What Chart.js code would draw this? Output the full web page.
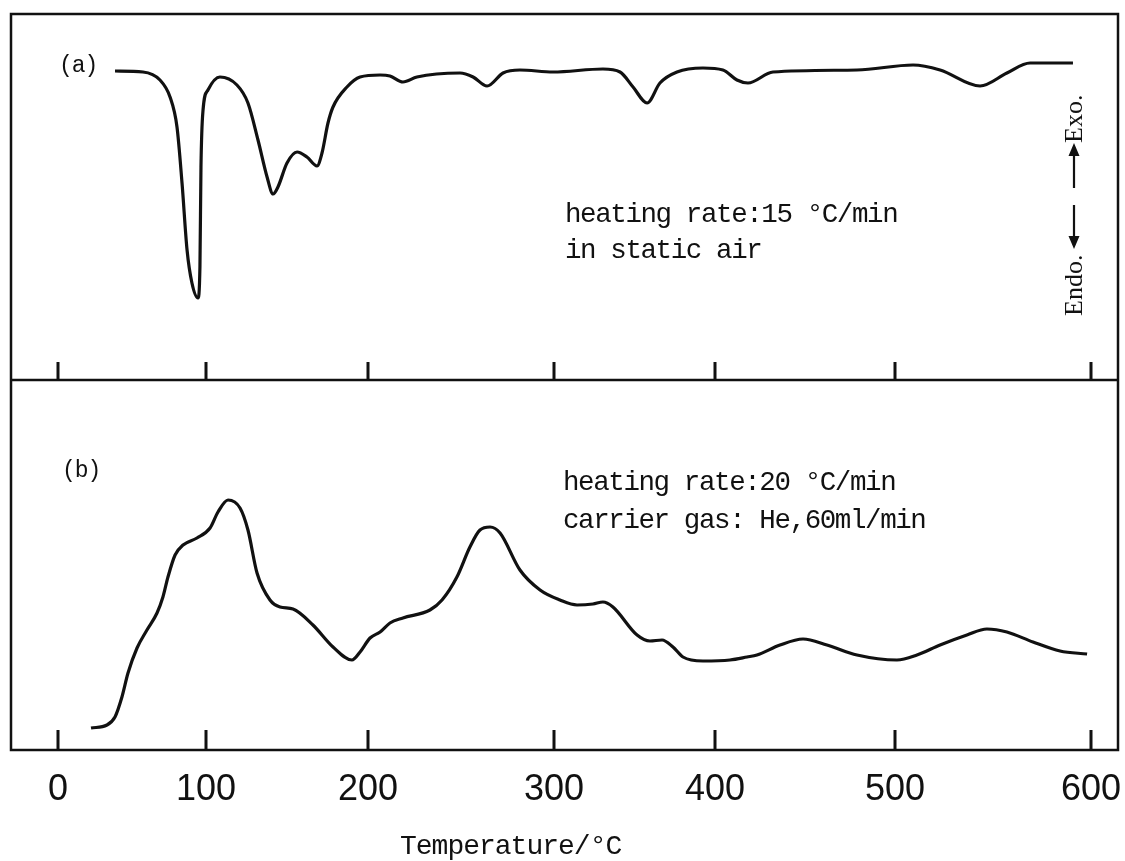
<!DOCTYPE html>
<html>
<head>
<meta charset="utf-8">
<script src="https://cdn.jsdelivr.net/npm/chart.js@4.4.1/dist/chart.umd.min.js"></script>
<style>
  body { margin: 0; background: #fff; }
  canvas { display: block; }
</style>
</head>
<body>
<canvas id="chart" width="1125" height="861"></canvas>
<script>
// (a) DTA in static air, 15 °C/min
const tempA = [38.5, 57.4, 68.9, 75.7, 80.4, 83.8, 87.2, 90.5, 94.6, 95.9, 96.6, 98.0, 101.2, 108.6, 119.1,
    125.9, 132.1, 137.7, 141.4, 144.4, 150.0, 156.2, 162.3, 168.5, 171.6, 175.3, 178.4, 187.0, 195.1,
    206.5, 211.8, 218.8, 226.3, 249.5, 256.5, 264.0, 272.6, 281.7, 299.5, 330.4, 341.0, 349.1, 357.8,
    365.8, 376.4, 392.5, 404.4, 412.2, 418.3, 432.2, 478.9, 509.2, 523.0, 543.4, 557.1, 568.9, 590.8];
const signalA = [30.9, 30.8, 30.0, 28.3, 25.3, 19.7, 13.0, 9.7, 8.2, 11.3, 21.3, 27.0, 29.0, 30.3, 29.5,
    27.7, 24.0, 20.3, 18.6, 19.3, 21.7, 22.8, 22.3, 21.4, 22.7, 25.7, 27.3, 29.3, 30.3,
    30.5, 30.4, 29.8, 30.3, 30.7, 30.3, 29.4, 30.7, 31.0, 30.8, 31.1, 30.8, 29.3, 27.7,
    29.7, 30.8, 31.2, 31.0, 30.0, 29.7, 30.8, 31.0, 31.5, 31.0, 29.4, 30.7, 31.7, 31.7];

// (b) TPD curve, 20 °C/min, He carrier
const tempB = [22.3, 33.1, 38.5, 43.2, 47.3, 53.4, 60.1, 66.9, 70.9, 74.3, 79.1, 84.5, 93.9, 102.5, 107.4,
    113.6, 121.0, 125.9, 131.5, 139.5, 145.7, 153.7, 166.0, 178.4, 190.1, 195.1, 201.1, 206.5, 211.8,
    218.8, 233.3, 239.8, 247.8, 254.8, 260.2, 265.6, 271.0, 281.7, 292.5, 303.7, 314.3, 324.2, 330.4,
    336.6, 351.6, 359.6, 367.1, 373.9, 380.1, 392.5, 408.3, 417.8, 423.3, 436.1, 448.9, 462.2, 478.9,
    501.0, 511.2, 523.0, 536.7, 546.9, 557.1, 570.4, 584.2, 598.0];
const signalB = [2.2, 2.5, 3.3, 5.3, 7.7, 10.2, 12.0, 13.7, 15.3, 17.3, 19.5, 20.5, 21.2, 22.2, 23.8,
    25.0, 24.2, 22.0, 17.7, 15.0, 14.3, 14.1, 12.5, 10.3, 9.0, 9.8, 11.2, 11.8, 12.7,
    13.2, 14.0, 15.0, 17.3, 20.3, 22.0, 22.3, 21.7, 18.0, 16.0, 15.0, 14.5, 14.6, 14.8,
    14.3, 11.5, 10.9, 11.0, 10.3, 9.3, 8.9, 9.0, 9.3, 9.5, 10.5, 11.1, 10.5, 9.5,
    9.0, 9.5, 10.5, 11.5, 12.1, 11.8, 10.8, 9.9, 9.6];

const tempTicks = [0, 100, 200, 300, 400, 500, 600];
const notesA = ['heating rate:15 °C/min', 'in static air'];
const notesB = ['heating rate:20 °C/min', 'carrier gas: He,60ml/min'];

// the printed temperature axis is hand drawn: each 100 °C step has its own length
const xStops = [[-31.8, 0], [0, 47], [100, 195], [200, 357], [300, 543], [400, 704], [500, 884], [600, 1080], [613.8, 1107]];

class StretchedScale extends Chart.LinearScale {
    static id = 'stretched';
    static defaults = Chart.LinearScale.defaults;

    getPixelForValue(value) {
        const total = xStops[xStops.length - 1][1];
        let i = 1;
        while (i < xStops.length - 1 && value > xStops[i][0]) i++;
        const [v0, p0] = xStops[i - 1], [v1, p1] = xStops[i];
        const pos = p0 + (value - v0) / (v1 - v0) * (p1 - p0);
        return this.getPixelForDecimal(pos / total);
    }

    getValueForPixel(pixel) {
        const total = xStops[xStops.length - 1][1];
        const pos = this.getDecimalForPixel(pixel) * total;
        let i = 1;
        while (i < xStops.length - 1 && pos > xStops[i][1]) i++;
        const [v0, p0] = xStops[i - 1], [v1, p1] = xStops[i];
        return v0 + (pos - p0) / (p1 - p0) * (v1 - v0);
    }
}
Chart.register(StretchedScale);

const mono = 'Liberation Mono, Courier New, monospace';

const panelDecor = {
    id: 'panelDecor',
    afterDraw(chart) {
        const {ctx, chartArea: a, scales} = chart;
        const mid = scales.ya.getPixelForValue(0);
        ctx.save();
        ctx.strokeStyle = '#111';
        ctx.fillStyle = '#111';
        ctx.lineWidth = 2.5;
        ctx.strokeRect(a.left, a.top, a.right - a.left, a.bottom - a.top);
        ctx.beginPath();
        ctx.moveTo(a.left, mid);
        ctx.lineTo(a.right, mid);
        ctx.stroke();

        // tick marks point inward from the bottom of each panel
        ctx.lineWidth = 3;
        tempTicks.forEach(v => {
            const x = scales.x.getPixelForValue(v);
            ctx.beginPath();
            ctx.moveTo(x, mid);
            ctx.lineTo(x, mid - 18);
            ctx.moveTo(x, a.bottom);
            ctx.lineTo(x, a.bottom - 20);
            ctx.stroke();
        });

        ctx.textAlign = 'left';
        ctx.textBaseline = 'alphabetic';
        ctx.letterSpacing = '-1px';
        ctx.font = '23px ' + mono;
        ctx.fillText('(a)', 59, 72);
        ctx.fillText('(b)', 62, 477);

        ctx.letterSpacing = '-1.4px';
        ctx.font = '27.5px ' + mono;
        ctx.fillText(notesA[0], 565, 222);
        ctx.fillText(notesA[1], 565, 258);
        ctx.fillText(notesB[0], 563, 490);
        ctx.fillText(notesB[1], 563, 528);

        ctx.letterSpacing = '-1px';
        ctx.font = '28px ' + mono;
        ctx.fillText('Temperature/°C', 400, 854);

        // Endo. / Exo. marker, read bottom to top
        ctx.letterSpacing = '0px';
        ctx.font = '26px Liberation Serif, Times New Roman, serif';
        ctx.textBaseline = 'middle';
        [['Endo.', 316], ['Exo.', 143]].forEach(([t, y]) => {
            ctx.save();
            ctx.translate(1075, y);
            ctx.rotate(-Math.PI / 2);
            ctx.fillText(t, 0, 0);
            ctx.restore();
        });
        ctx.lineWidth = 2.2;
        ctx.beginPath();
        ctx.moveTo(1074, 205); ctx.lineTo(1074, 240);
        ctx.moveTo(1074, 188); ctx.lineTo(1074, 152);
        ctx.stroke();
        ctx.beginPath();
        ctx.moveTo(1074, 249); ctx.lineTo(1068.5, 236); ctx.lineTo(1079.5, 236); ctx.closePath();
        ctx.moveTo(1074, 143); ctx.lineTo(1068.5, 156); ctx.lineTo(1079.5, 156); ctx.closePath();
        ctx.fill();
        ctx.restore();
    }
};

const curve = (temps, values, axis) => ({
    data: temps.map((t, i) => ({x: t, y: values[i]})),
    yAxisID: axis,
    borderColor: '#111',
    borderWidth: 3.2,
    pointRadius: 0,
    fill: false,
    cubicInterpolationMode: 'monotone'
});

new Chart(document.getElementById('chart'), {
    type: 'line',
    data: {
        datasets: [curve(tempA, signalA, 'ya'), curve(tempB, signalB, 'yb')]
    },
    options: {
        responsive: false,
        animation: false,
        devicePixelRatio: 1,
        layout: { padding: { left: 11, right: 7, top: 14, bottom: 0 } },
        plugins: { legend: { display: false }, tooltip: { enabled: false } },
        scales: {
            x: {
                type: 'stretched',
                min: -31.8,
                max: 613.8,
                grid: { display: false, drawTicks: false },
                border: { display: false },
                afterBuildTicks: axis => { axis.ticks = tempTicks.map(v => ({value: v})); },
                afterFit: axis => { axis.height = 111; axis.paddingLeft = 0; axis.paddingRight = 0; },
                ticks: {
                    padding: 18,
                    maxRotation: 0,
                    autoSkip: false,
                    color: '#111',
                    font: { family: 'Liberation Sans, Arial, sans-serif', size: 36 },
                    callback: v => String(v)
                }
            },
            ya: { display: false, min: -37, max: 36.6 },
            yb: { display: false, min: 0, max: 73.6 }
        }
    },
    plugins: [panelDecor]
});
</script>
</body>
</html>
